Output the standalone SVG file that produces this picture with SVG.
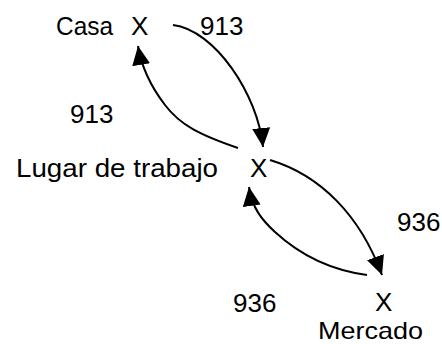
<svg xmlns="http://www.w3.org/2000/svg" width="442" height="344" viewBox="0 0 442 344">
<style>
text{font-family:"Liberation Sans",Arial,sans-serif;font-size:26px;fill:#000}
.c{fill:none;stroke:#000;stroke-width:2}
</style>
<defs>
<marker id="ah" markerUnits="userSpaceOnUse" markerWidth="20" markerHeight="18" viewBox="0 0 20 18" refX="19" refY="9" orient="auto">
<path d="M0,0 L19,9 L0,18 Z" fill="#000"/>
</marker>
</defs>
<rect width="442" height="344" fill="#fff"/>
<g id="casa">
<text x="56" y="35" textLength="57" lengthAdjust="spacingAndGlyphs">Casa</text>
<text x="131" y="35">X</text>
</g>
<g id="lugar">
<text x="16" y="177" textLength="202" lengthAdjust="spacingAndGlyphs">Lugar de trabajo</text>
<text x="250" y="177">X</text>
</g>
<g id="mercado">
<text x="375" y="310.5">X</text>
<text x="318" y="338.5" style="font-size:24px" textLength="105" lengthAdjust="spacingAndGlyphs">Mercado</text>
</g>
<g id="labels">
<text x="200" y="35">913</text>
<text x="70" y="123">913</text>
<text x="397" y="231">936</text>
<text x="233" y="312">936</text>
</g>
<g id="connectors">
<path class="c" d="M173,25 C215,30 258,95 263,147" marker-end="url(#ah)"/>
<path class="c" d="M238,148 C200,135 180,125 165,105 C152,88 142,70 138,46" marker-end="url(#ah)"/>
<path class="c" d="M270,160 C320,175 360,215 382,275" marker-end="url(#ah)"/>
<path class="c" d="M367,275 C330,270 300,255 275,232 C262,220 252,208 249,187" marker-end="url(#ah)"/>
</g>
</svg>
